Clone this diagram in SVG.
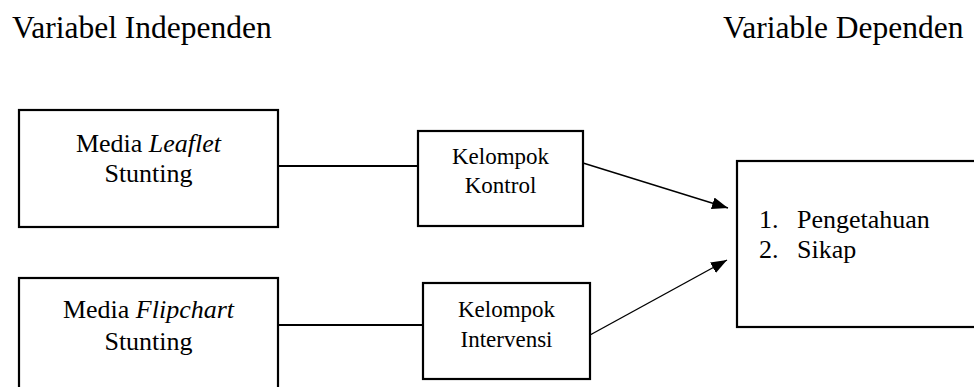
<svg xmlns="http://www.w3.org/2000/svg" width="974" height="387" viewBox="0 0 974 387">
<style>
text{font-family:"Liberation Serif","Times New Roman",serif;fill:#000}
.h{font-size:31.5px}
.b{font-size:26px;text-anchor:middle}
.k{font-size:23px;text-anchor:middle}
.l{font-size:26px}
.box{fill:#fff;stroke:#000;stroke-width:2.2}
.ln{stroke:#000;stroke-width:2.2;fill:none}
.ar{stroke:#000;stroke-width:1.4;fill:none}
</style>
<defs>
<marker id="ah" viewBox="0 0 16 12" refX="16" refY="6" markerWidth="16" markerHeight="12" markerUnits="userSpaceOnUse" orient="auto">
<path d="M0,0 L16,6 L0,12 Z" fill="#000"/>
</marker>
</defs>
<rect width="974" height="387" fill="#fff"/>
<text class="h" x="12" y="38">Variabel Independen</text>
<text class="h" x="723" y="38">Variable Dependen</text>
<g id="connectors">
<line class="ln" x1="278" y1="166" x2="418" y2="166"/>
<line class="ln" x1="278" y1="325" x2="423" y2="325"/>
<line class="ar" x1="583" y1="163" x2="728" y2="208" marker-end="url(#ah)"/>
<line class="ar" x1="590" y1="335" x2="727" y2="260" marker-end="url(#ah)"/>
</g>
<g id="leaflet">
<rect class="box" x="19" y="110" width="259" height="117"/>
<text class="b" x="148.5" y="152">Media <tspan font-style="italic">Leaflet</tspan></text>
<text class="b" x="148.5" y="182">Stunting</text>
</g>
<g id="flipchart">
<rect class="box" x="19" y="278" width="259" height="120"/>
<text class="b" x="148.5" y="318">Media <tspan font-style="italic">Flipchart</tspan></text>
<text class="b" x="148.5" y="350">Stunting</text>
</g>
<g id="kontrol">
<rect class="box" x="418" y="131" width="165" height="95"/>
<text class="k" x="500.5" y="164">Kelompok</text>
<text class="k" x="500.5" y="193">Kontrol</text>
</g>
<g id="intervensi">
<rect class="box" x="423" y="283" width="167" height="96"/>
<text class="k" x="506.5" y="317">Kelompok</text>
<text class="k" x="506.5" y="347">Intervensi</text>
</g>
<g id="dependen">
<rect class="box" x="737" y="161" width="250" height="166"/>
<text class="l" x="759" y="228">1.</text>
<text class="l" x="797" y="228">Pengetahuan</text>
<text class="l" x="759" y="258">2.</text>
<text class="l" x="797" y="258">Sikap</text>
</g>
</svg>
